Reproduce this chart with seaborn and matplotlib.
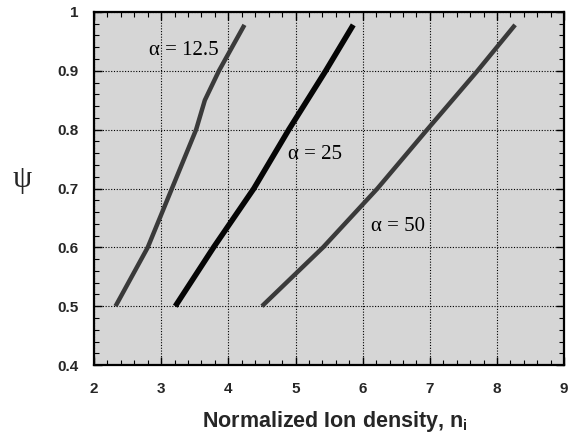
import matplotlib
matplotlib.use("Agg")
import matplotlib.pyplot as plt
import seaborn as sns
import pandas as pd
from matplotlib.ticker import MultipleLocator

# ---- data ----
psi_125 = [0.50, 0.60, 0.70, 0.80, 0.85, 0.90, 0.978]
n_125 = [2.32, 2.80, 3.16, 3.52, 3.65, 3.86, 4.24]

psi_25 = [0.50, 0.60, 0.70, 0.80, 0.90, 0.978]
n_25 = [3.21, 3.78, 4.38, 4.90, 5.45, 5.86]

psi_50 = [0.50, 0.60, 0.70, 0.80, 0.90, 0.978]
n_50 = [4.50, 5.41, 6.22, 6.96, 7.71, 8.27]

series_labels = ["α = 12.5", "α = 25", "α = 50"]
x_ticks = [2, 3, 4, 5, 6, 7, 8, 9]
y_ticks = [0.4, 0.5, 0.6, 0.7, 0.8, 0.9, 1.0]
y_tick_labels = ["0.4", "0.5", "0.6", "0.7", "0.8", "0.9", "1"]

sns.set_theme(style="ticks")
plt.rcParams["font.family"] = ["Liberation Sans", "DejaVu Sans"]
plt.rcParams["mathtext.fontset"] = "custom"
plt.rcParams["mathtext.rm"] = "Liberation Sans"
plt.rcParams["mathtext.bf"] = "Liberation Sans:bold"

frames = []
for lab, xs, ys in zip(series_labels, [n_125, n_25, n_50], [psi_125, psi_25, psi_50]):
    frames.append(pd.DataFrame({"n": xs, "psi": ys, "series": lab}))
df = pd.concat(frames, ignore_index=True)

fig = plt.figure(figsize=(5.84, 4.42), dpi=100)
ax = fig.add_axes([0.161, 0.174, 0.805, 0.799])
ax.set_facecolor("#d6d6d6")

styles = {
    "α = 12.5": dict(color="#3a3a3a", lw=3.2),
    "α = 25": dict(color="#050505", lw=4.0),
    "α = 50": dict(color="#3a3a3a", lw=3.2),
}
for lab in series_labels:
    sub = df[df["series"] == lab]
    sns.lineplot(data=sub, x="n", y="psi", sort=False, ax=ax,
                 color=styles[lab]["color"], linewidth=styles[lab]["lw"],
                 solid_capstyle="butt", legend=False)

ax.set_xlim(2, 9)
ax.set_ylim(0.4, 1.0)
ax.set_xticks(x_ticks)
ax.set_xticklabels([str(v) for v in x_ticks], fontweight="bold", fontsize=11)
ax.set_yticks(y_ticks)
ax.set_yticklabels(y_tick_labels, fontweight="bold", fontsize=11)
ax.xaxis.set_minor_locator(MultipleLocator(0.2))
ax.yaxis.set_minor_locator(MultipleLocator(0.02))
ax.tick_params(which="both", direction="in", top=True, right=True, color="black")
ax.tick_params(which="major", length=6, width=1.0)
ax.tick_params(axis="x", which="major", pad=12)
ax.tick_params(axis="y", which="major", pad=11)
ax.tick_params(which="minor", length=3.5, width=0.8)
ax.grid(True, which="major", linestyle=(0, (1, 1.5)), color="black", linewidth=0.8)
for sp in ax.spines.values():
    sp.set_linewidth(1.6)
    sp.set_color("black")

ax.set_xlabel(r"Normalized Ion density, n$_\mathbf{i}$", fontsize=15.5,
              fontweight="bold")
ax.xaxis.set_label_coords(0.513, -0.125)
ax.set_ylabel("")
fig.text(0.038, 0.595, "ψ", family=["Liberation Serif", "DejaVu Serif"],
         fontsize=22, ha="center", va="center")

ann_font = dict(family=["Liberation Serif", "DejaVu Serif"], fontsize=15,
                ha="center", va="center", color="black")
ax.text(3.33, 0.935, "α = 12.5", **ann_font)
ax.text(5.29, 0.757, "α = 25", **ann_font)
ax.text(6.53, 0.636, "α = 50", **ann_font)

fig.savefig("out.png", dpi=100)
